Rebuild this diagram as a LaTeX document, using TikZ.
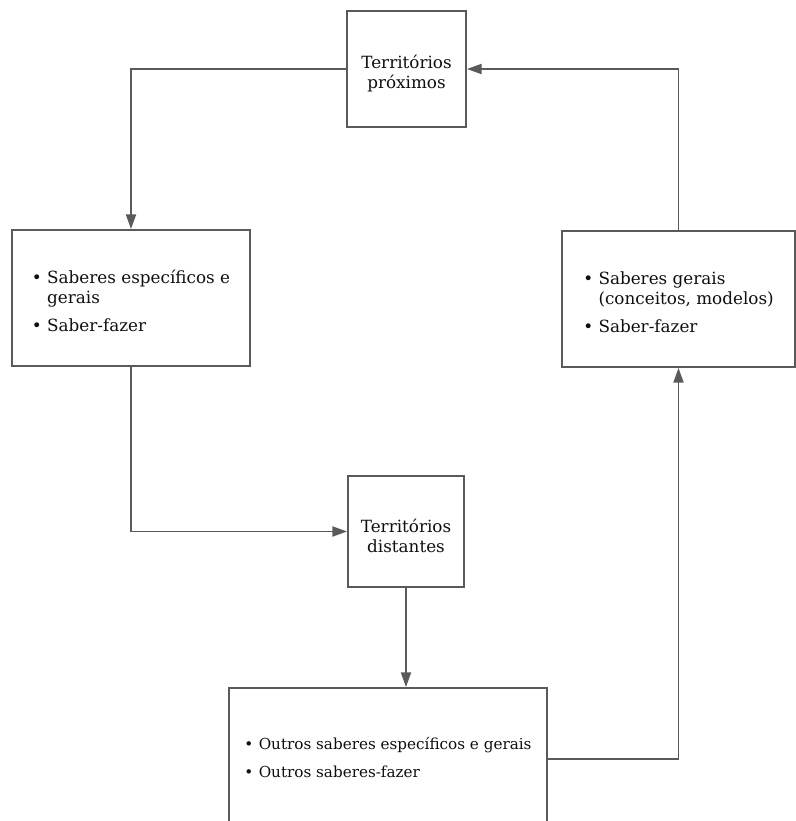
\documentclass[tikz,border=0pt]{standalone}
\usepackage{fontspec}
\setmainfont{DejaVu Serif}
\usetikzlibrary{arrows.meta}

\definecolor{linegray}{RGB}{90,90,90}
\definecolor{inkgray}{RGB}{15,15,15}

% invisible strut that lowers a text block a little inside its box
\newcommand\lowerstrut[1]{\rule{0pt}{#1}}

\tikzset{
  box/.style={draw=linegray, line width=1.4pt, fill=white, inner sep=0pt,
              text=inkgray, align=center},
  flow/.style={draw=linegray, line width=1.4pt,
               -{Triangle[length=11pt,width=7.5pt]}, fill=none},
  sidefont/.style={font=\fontsize{12.6}{15}\selectfont},
  lowfont/.style={font=\fontsize{11.4}{15}\selectfont}
}

\begin{document}
\begin{tikzpicture}[x=0.75pt, y=-0.75pt]
  % page frame in pixel units, origin at the top left
  \clip (0,0) rectangle (796,821);
  \fill[white] (0,0) rectangle (796,821);

  % territories
  \node[box, sidefont, minimum width=119*0.75pt, minimum height=116*0.75pt]
    (prox) at (406.5,69) {\lowerstrut{17pt}Territórios\\próximos};
  \node[box, sidefont, minimum width=116*0.75pt, minimum height=111*0.75pt]
    (dist) at (406,531.5) {\lowerstrut{17pt}Territórios\\distantes};

  % knowledge boxes
  \node[box, sidefont, minimum width=238*0.75pt, minimum height=136*0.75pt]
    (left) at (131,298)
    {\begin{tabular}{@{}l@{\hspace{4pt}}l@{}}
       \lowerstrut{18pt}• & Saberes específicos e\\
         & gerais\\[6pt]
       • & Saber-fazer
     \end{tabular}};
  \node[box, sidefont, minimum width=233*0.75pt, minimum height=136*0.75pt]
    (right) at (678.5,299)
    {\begin{tabular}{@{}l@{\hspace{4pt}}l@{}}
       \lowerstrut{18pt}• & Saberes gerais\\
         & (conceitos, modelos)\\[6pt]
       • & Saber-fazer
     \end{tabular}};
  \node[box, lowfont, minimum width=318*0.75pt, minimum height=142*0.75pt]
    (low) at (388,759)
    {\begin{tabular}{@{}l@{\hspace{4pt}}l@{}}
       • & Outros saberes específicos e gerais\\[6pt]
       • & Outros saberes-fazer
     \end{tabular}};

  % cycle of connectors
  \draw[flow] (prox.west) -| (left.north);
  \draw[flow] (left.south) |- (dist.west);
  \draw[flow] (dist.south) -- (dist.south |- low.north);
  \draw[flow] (low.east) -| (right.south);
  \draw[flow] (right.north) |- (prox.east);
\end{tikzpicture}
\end{document}
